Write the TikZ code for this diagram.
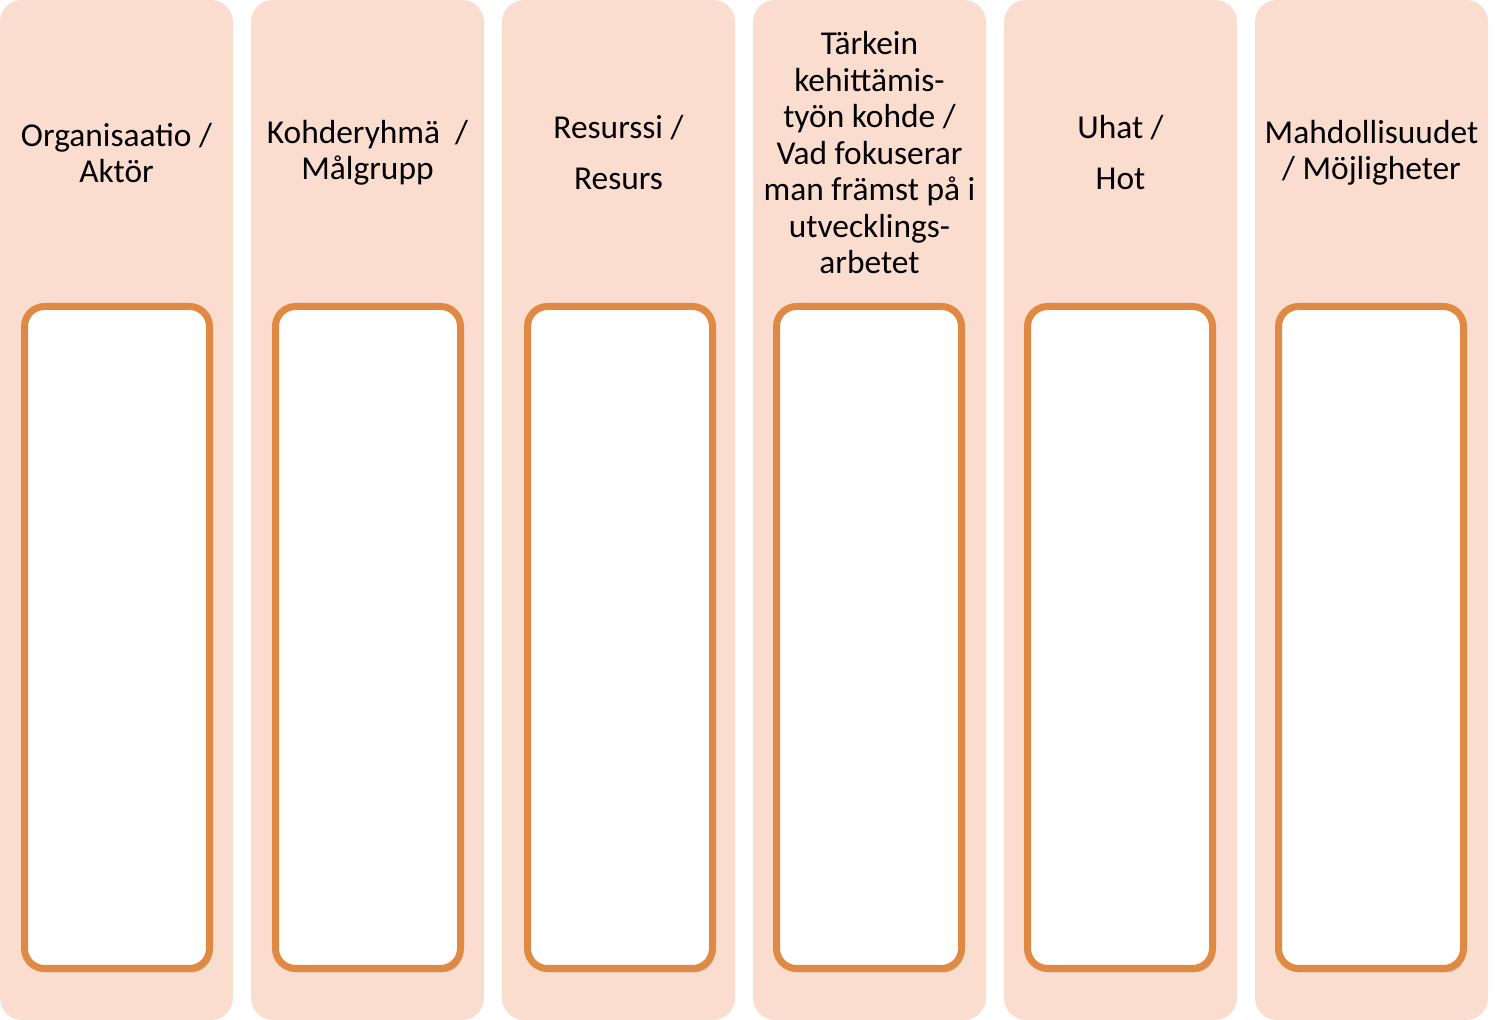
\documentclass[tikz,border=0pt]{standalone}
\usepackage{fontspec}
\setmainfont{Carlito}
\usepackage{tikz}
\usetikzlibrary{shadows}
\usepackage{xcolor}
\definecolor{peachbg}{RGB}{251, 221, 208}
\definecolor{frameorange}{RGB}{224, 137, 66}
\tikzset{
  colbg/.style    = {rectangle, rounded corners=11pt, fill=peachbg, minimum width=116.5pt, minimum height=510pt, inner sep=0pt},
  colhead/.style  = {align=center, font=\fontsize{16.7pt}{18.25pt}\selectfont, inner sep=0pt},
  notebox/.style  = {rectangle, rounded corners=10pt, draw=frameorange, line width=3.5pt, fill=white, minimum width=92.5pt, minimum height=331pt, inner sep=0pt,
                     drop shadow={shadow xshift=1pt, shadow yshift=-2pt, opacity=0.3, fill=black!70}},
}

\begin{document}
\begin{tikzpicture}[x=0.5pt, y=0.5pt]
  % kehys 1507 x 1020
  \useasboundingbox (0,0) rectangle (1507,1020);

  \node[colbg] (col1) at (116.5,510) {};
  \node[colbg] (col2) at (367.5,510) {};
  \node[colbg] (col3) at (618.5,510) {};
  \node[colbg] (col4) at (869.5,510) {};
  \node[colbg] (col5) at (1120.5,510) {};
  \node[colbg] (col6) at (1371.5,510) {};

  \node[colhead] (head1) at (116.5,867) {Organisaatio /\\Aktör};
  \node[colhead] (head2) at (367.5,867) {Kohderyhmä \ /\\Målgrupp};
  \node[colhead] (head3) at (618.5,867) {Resurssi /\\[7.25pt]Resurs};
  \node[colhead] (head4) at (869.5,867) {Tärkein\\kehittämis-\\työn kohde /\\Vad fokuserar\\man främst på i\\utvecklings-\\arbetet};
  \node[colhead] (head5) at (1120.5,867) {Uhat /\\[7.25pt]Hot};
  \node[colhead] (head6) at (1371.5,867) {Mahdollisuudet\\/ Möjligheter};

  \node[notebox] (box1) at (117,382.5) {};
  \node[notebox] (box2) at (368,382.5) {};
  \node[notebox] (box3) at (620,382.5) {};
  \node[notebox] (box4) at (869,382.5) {};
  \node[notebox] (box5) at (1120,382.5) {};
  \node[notebox] (box6) at (1371,382.5) {};
\end{tikzpicture}
\end{document}
